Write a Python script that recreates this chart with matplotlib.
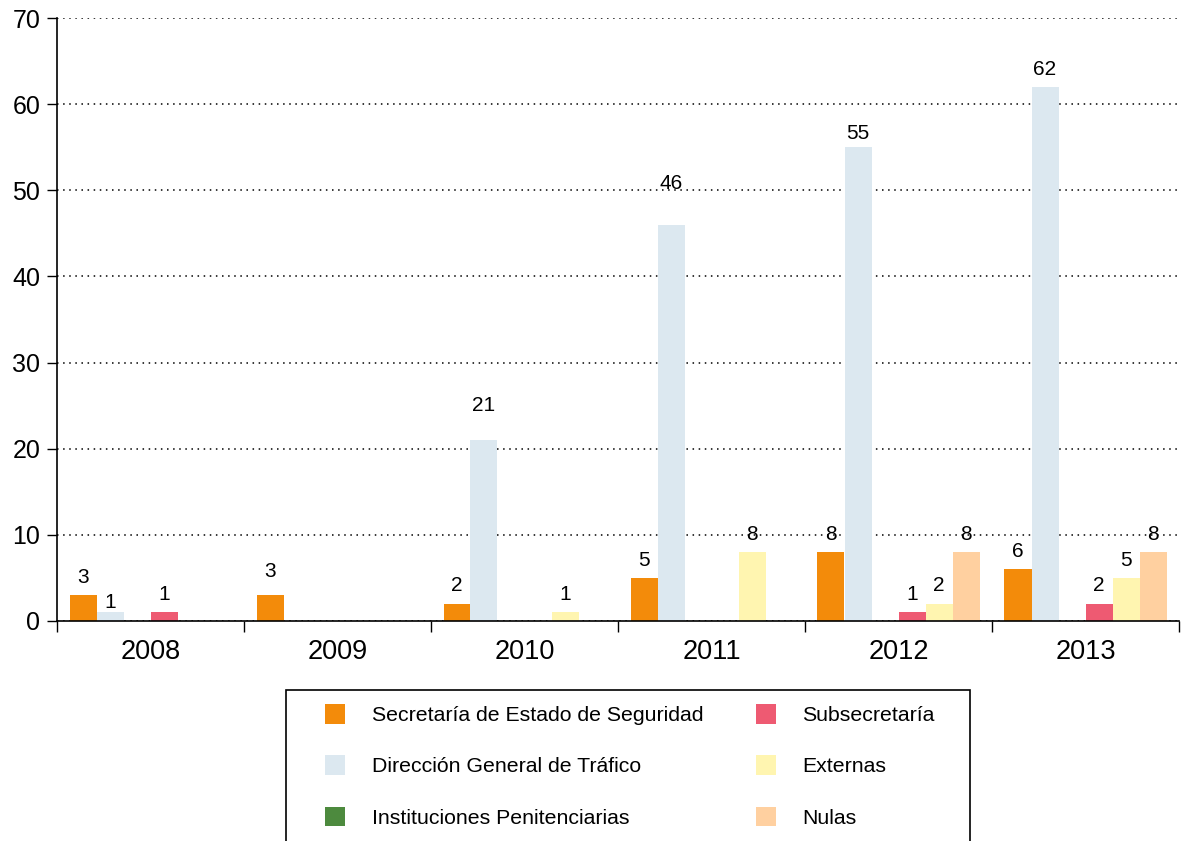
import matplotlib
matplotlib.use("Agg")
import matplotlib.pyplot as plt
from matplotlib.patches import Rectangle

plt.rcParams['font.family'] = ['Liberation Sans', 'DejaVu Sans']

years = ["2008", "2009", "2010", "2011", "2012", "2013"]
series = ["Secretaría de Estado de Seguridad", "Dirección General de Tráfico",
          "Instituciones Penitenciarias", "Subsecretaría", "Externas", "Nulas"]
secretaria = [3, 3, 2, 5, 8, 6]
trafico = [1, 0, 21, 46, 55, 62]
penitenciarias = [0, 0, 0, 0, 0, 0]
subsecretaria = [1, 0, 0, 0, 1, 2]
externas = [0, 0, 1, 8, 2, 5]
nulas = [0, 0, 0, 0, 8, 8]
values = [secretaria, trafico, penitenciarias, subsecretaria, externas, nulas]
colors = ["#F38B0A", "#DCE8F0", "#4D8A3E", "#EE5A72", "#FFF5B0", "#FFD0A0"]

# label nudges (points) where the original places labels higher/lower
nudge = {(0, 1): -6, (1, 0): 4, (2, 1): 12, (3, 1): 17, (4, 1): -3}

fig = plt.figure(figsize=(11.81, 8.41), dpi=100)
ax = fig.add_axes([57/1181, 1 - 621/841, 1122/1181, 603/841])

w = 27 / 187
for k, (name, vals, c) in enumerate(zip(series, values, colors)):
    xs = [i + 0.5 + (k - 2.5) * w for i in range(len(years))]
    ax.bar(xs, vals, width=w, color=c, label=name, linewidth=0, zorder=3)
    for i, (x, v) in enumerate(zip(xs, vals)):
        if v:
            ax.annotate(str(v), (x, v), xytext=(0, 6 + nudge.get((i, k), 0)),
                        textcoords="offset points", ha="center", va="bottom",
                        fontsize=15, zorder=4)

ax.set_xlim(0, 6)
ax.set_ylim(0, 70)
ax.set_yticks(range(0, 71, 10))
ax.yaxis.grid(True, color="black", linestyle=(0, (1, 3)), linewidth=1.1)
ax.set_axisbelow(True)
ax.set_xticks(range(0, 7))
ax.set_xticklabels([])
ax.set_xticks([i + 0.5 for i in range(6)], minor=True)
ax.set_xticklabels(years, minor=True, fontsize=19.5)
ax.tick_params(axis="x", which="major", length=8, width=1, direction="out")
ax.tick_params(axis="x", which="minor", length=0, pad=13)
ax.tick_params(axis="y", length=7, width=1, labelsize=18, pad=5)
for s in ["top", "right"]:
    ax.spines[s].set_visible(False)
ax.spines["left"].set_linewidth(1.2)
ax.spines["bottom"].set_linewidth(1.2)
ax.spines["bottom"].set_zorder(5)

handles, labels = ax.get_legend_handles_labels()
fig.legend(handles, labels, ncol=2, loc="upper left",
           bbox_to_anchor=(325/1181, 1 - 704/841), frameon=False,
           fontsize=15.3, handlelength=0.94, handleheight=1.05,
           handletextpad=1.27, labelspacing=1.42, columnspacing=2.45,
           borderpad=0, borderaxespad=0)
fig.patches.append(Rectangle((286/1181, -0.05), 684/1181, 0.05 + 1 - 690/841,
                             transform=fig.transFigure, fill=False,
                             edgecolor="black", linewidth=1.2))

plt.savefig("out.png", dpi=100)
